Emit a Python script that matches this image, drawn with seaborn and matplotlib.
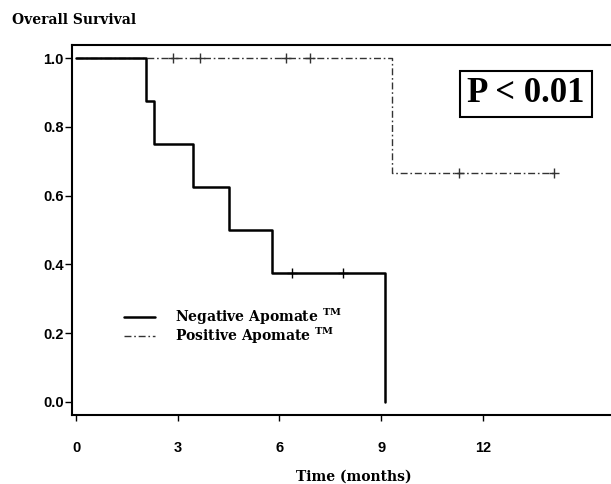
import matplotlib
matplotlib.use("Agg")
import matplotlib.pyplot as plt
import seaborn as sns
import pandas as pd
from matplotlib.lines import Line2D

# ---- data ----
neg_times = [0.0, 2.07, 2.30, 3.45, 4.52, 5.79, 9.12]
neg_surv = [1.0, 0.875, 0.75, 0.625, 0.5, 0.375, 0.0]
neg_censor_t = [6.37, 7.88]
neg_censor_s = [0.375, 0.375]

pos_times = [0.0, 9.32, 14.10]
pos_surv = [1.0, 0.667, 0.667]
pos_censor_t = [2.87, 3.66, 6.19, 6.90, 11.30, 14.10]
pos_censor_s = [1.0, 1.0, 1.0, 1.0, 0.667, 0.667]

x_ticks = [0, 3, 6, 9, 12]
y_ticks = [0.0, 0.2, 0.4, 0.6, 0.8, 1.0]
labels = [r"Negative Apomate $^{\mathbf{TM}}$", r"Positive Apomate $^{\mathbf{TM}}$"]

sns.set_style("white")
plt.rcParams["font.family"] = ["Liberation Sans", "DejaVu Sans"]
plt.rcParams["mathtext.fontset"] = "dejavuserif"
plt.rcParams["text.color"] = "black"

SERIF = ["DejaVu Serif", "Liberation Serif"]

W, H = 611, 484
fig = plt.figure(figsize=(W / 100, H / 100), dpi=100)
ax = fig.add_axes([72 / W, 1 - 415 / H, 1 - 72 / W, (415 - 45) / H])

neg_df = pd.DataFrame({"t": neg_times, "s": neg_surv})
pos_df = pd.DataFrame({"t": pos_times, "s": pos_surv})

sns.lineplot(data=pos_df, x="t", y="s", ax=ax, drawstyle="steps-post",
             color="#333333", linewidth=1.0, dashes=False,
             linestyle=(0, (5, 2, 1.2, 2)), estimator=None, legend=False)
sns.lineplot(data=neg_df, x="t", y="s", ax=ax, drawstyle="steps-post",
             color="black", linewidth=1.8, estimator=None, legend=False)

sns.scatterplot(x=pos_censor_t, y=pos_censor_s, ax=ax, marker="+", s=45,
                color="#333333", linewidth=1.0, legend=False)
sns.scatterplot(x=neg_censor_t, y=neg_censor_s, ax=ax, marker="+", s=45,
                color="black", linewidth=1.0, legend=False)

ax.set_xlim(-0.118, 15.78)
ax.set_ylim(-0.038, 1.038)
ax.set_xticks(x_ticks)
ax.set_xticklabels([str(v) for v in x_ticks])
ax.set_yticks(y_ticks)
ax.set_yticklabels([f"{v:.1f}" for v in y_ticks])
ax.set_xlabel("")
ax.set_ylabel("")

for side in ["left", "top", "bottom"]:
    ax.spines[side].set_visible(True)
    ax.spines[side].set_linewidth(1.5)
    ax.spines[side].set_color("black")
ax.spines["right"].set_visible(False)

ax.tick_params(axis="x", bottom=True, direction="out", length=4, width=1,
               pad=15, labelsize=10.5, colors="black")
ax.tick_params(axis="y", left=True, direction="out", length=5, width=1,
               pad=1, labelsize=10.5, colors="black")
for lab in ax.get_xticklabels() + ax.get_yticklabels():
    lab.set_fontweight("bold")

handles = [Line2D([], [], color="black", lw=1.8),
           Line2D([], [], color="#333333", lw=1.0, linestyle=(0, (5, 2, 1.2, 2)))]
leg = ax.legend(handles, labels, loc="center left",
                bbox_to_anchor=(124 / W, 1 - 326 / H),
                bbox_transform=fig.transFigure, frameon=False,
                handlelength=2.2, handletextpad=1.5, labelspacing=-0.1,
                borderpad=0, borderaxespad=0,
                prop={"family": SERIF, "weight": "bold", "size": 10})

ax.text(526 / W, 1 - 94 / H, "P < 0.01", transform=fig.transFigure,
        ha="center", va="center", family="Liberation Serif",
        fontweight="bold", fontsize=25, color="black",
        bbox=dict(boxstyle="square,pad=0.2", facecolor="white",
                  edgecolor="black", linewidth=1.5))

fig.text(12 / W, 1 - 20 / H, "Overall Survival", ha="left", va="center",
         family=SERIF, fontweight="bold", fontsize=10)
fig.text(354 / W, 1 - 477 / H, "Time (months)", ha="center", va="center",
         family=SERIF, fontweight="bold", fontsize=10)

fig.savefig("out.png", dpi=100)
